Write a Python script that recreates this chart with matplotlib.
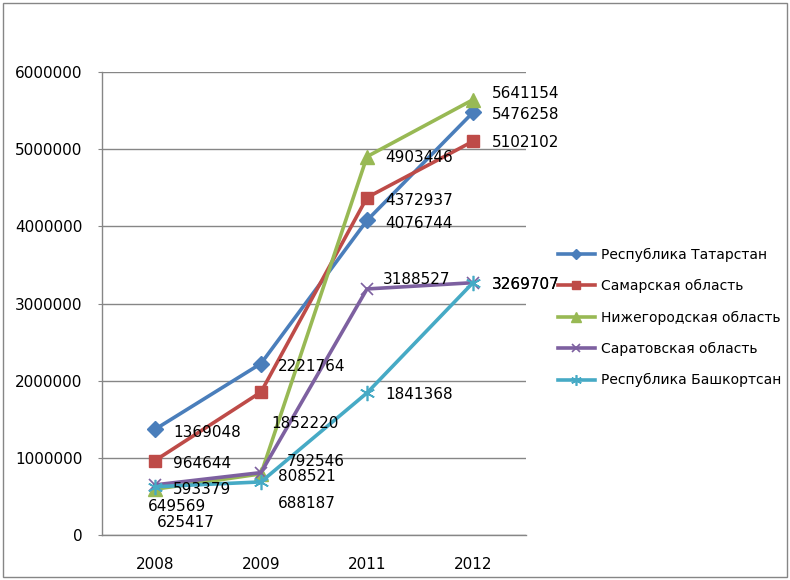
import matplotlib
matplotlib.use("Agg")
import matplotlib.pyplot as plt
from matplotlib.patches import Rectangle

years = ["2008", "2009", "2011", "2012"]
series_names = ["Республика Татарстан", "Самарская область", "Нижегородская область",
                "Саратовская область", "Республика Башкортсан"]
tatarstan = [1369048, 2221764, 4076744, 5476258]
samara = [964644, 1852220, 4372937, 5102102]
nizhny = [593379, 792546, 4903446, 5641154]
saratov = [649569, 808521, 3188527, 3269707]
bashkort = [625417, 688187, 1841368, 3269707]
all_series = [tatarstan, samara, nizhny, saratov, bashkort]

colors = ["#4A7EBB", "#BE4B48", "#98B954", "#7D60A0", "#46AAC5"]
markers = ["D", "s", "^", "x", (6, 2, 0)]
msizes = [8, 9, 10, 9, 11]

# label offsets in pixels (dx, dy)
offsets = [
    [(18, -3), (17, -3), (18, -3), (19, -2)],
    [(18, -3), (10, -31), (18, -3), (19, -1)],
    [(18, 0), (26, 12), (18, -1), (19, 6)],
    [(-7, -22), (17, -4), (16, 9), (19, -2)],
    [(2, -36), (17, -22), (18, -2), (19, -2)],
]

fig = plt.figure(figsize=(7.9, 5.8), dpi=100)
ax = fig.add_axes([102/790, 1-535/580, (526-102)/790, (535-72)/580])

x = list(range(len(years)))
for i, (vals, name) in enumerate(zip(all_series, series_names)):
    ax.plot(x, vals, color=colors[i], lw=2.6, marker=markers[i], markersize=msizes[i],
            markeredgewidth=1.2 if i >= 3 else 1.0,
            markeredgecolor=colors[i], markerfacecolor=colors[i],
            label=name, zorder=3 + i, solid_joinstyle="miter")
    for j, v in enumerate(vals):
        dx, dy = offsets[i][j]
        ax.annotate(f"{v}", (j, v), xytext=(dx, dy), textcoords="offset pixels",
                    ha="left", va="center", fontsize=11, color="#000000",
                    family="DejaVu Sans", zorder=10)

ax.set_xlim(-0.5, 3.5)
ax.set_ylim(0, 6000000)
ax.set_yticks(range(0, 6000001, 1000000))
ax.set_yticklabels([str(v) for v in range(0, 6000001, 1000000)])
ax.set_xticks(x)
ax.set_xticklabels(years)
ax.tick_params(axis="y", length=3, color="#868686", labelsize=11, pad=11)
ax.tick_params(axis="x", length=0, labelsize=11, pad=16)
ax.yaxis.grid(True, color="#868686", lw=1)
ax.set_axisbelow(True)
for s in ["top", "right"]:
    ax.spines[s].set_visible(False)
for s in ["left", "bottom"]:
    ax.spines[s].set_color("#868686")
    ax.spines[s].set_linewidth(1)

leg = fig.legend(loc="upper left", bbox_to_anchor=(552/790, 1-242/580), frameon=False,
                 fontsize=10, handlelength=2.7, handletextpad=0.45, labelspacing=1.25,
                 borderaxespad=0, markerscale=0.7)

fig.patches.append(Rectangle((3/790, 3/580), 784/790, 574/580, transform=fig.transFigure,
                             fill=False, edgecolor="#868686", lw=1))

fig.savefig("out.png", dpi=100)
